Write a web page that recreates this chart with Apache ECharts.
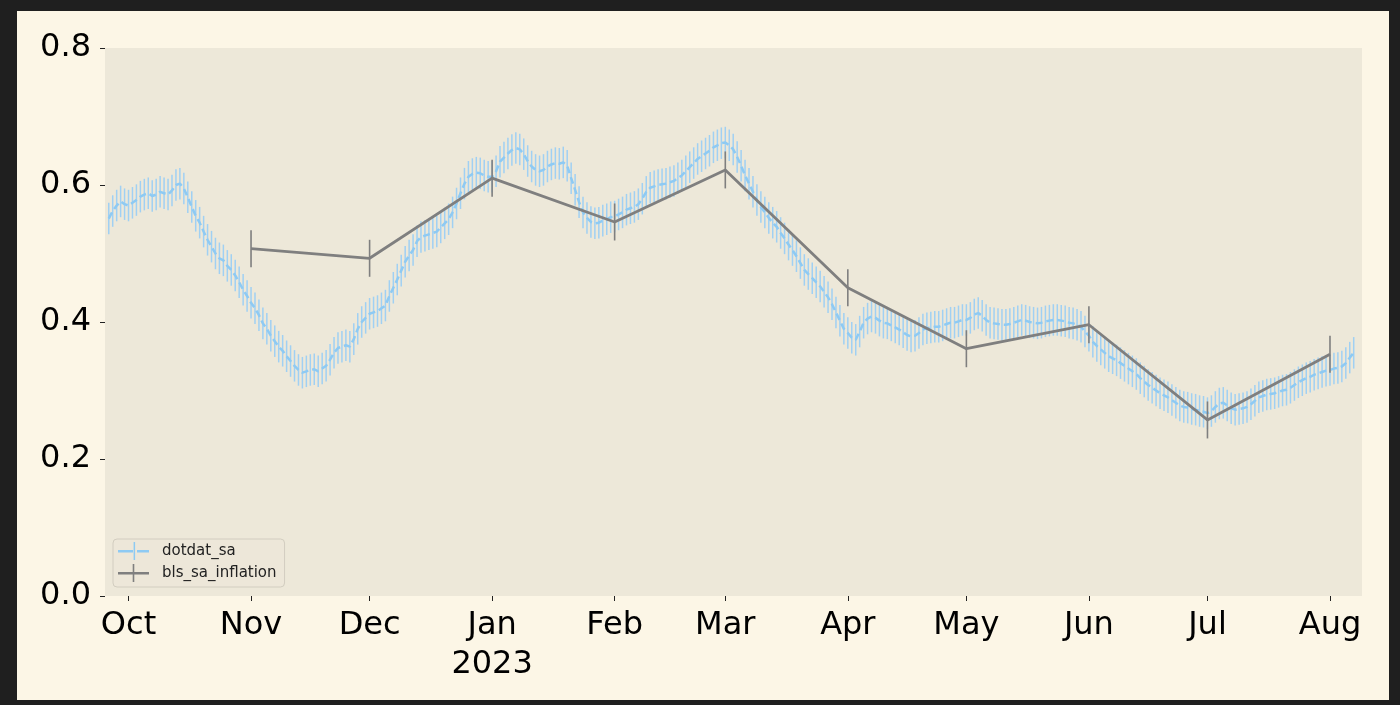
<!DOCTYPE html>
<html>
<head>
<meta charset="utf-8">
<script src="https://cdn.jsdelivr.net/npm/echarts@6/dist/echarts.min.js"></script>
<style>
  html, body { margin: 0; padding: 0; background: #1f1f1f; width: 1400px; height: 705px; overflow: hidden; }
  #chart { position: absolute; left: 17px; top: 11px; width: 1372px; height: 689px; }
</style>
</head>
<body>
<div id="chart"></div>
<script>
// ---------------- DATA ----------------
// dotdat_sa: daily values starting 2022-09-26
const dotStart = [2022, 8, 26];
const dotSep = [0.551, 0.562, 0.570, 0.576, 0.572];
const dotOct = [0.570, 0.574, 0.578, 0.583, 0.586, 0.588, 0.584, 0.586, 0.590, 0.588,
                0.586, 0.592, 0.600, 0.602, 0.595, 0.582, 0.568, 0.555, 0.545, 0.532,
                0.520, 0.510, 0.500, 0.493, 0.490, 0.482, 0.476, 0.468, 0.458, 0.447, 0.438];
const dotNov = [0.428, 0.420, 0.410, 0.398, 0.390, 0.380, 0.372, 0.364, 0.358, 0.350,
                0.343, 0.336, 0.330, 0.326, 0.328, 0.330, 0.331, 0.328, 0.332, 0.336,
                0.345, 0.355, 0.362, 0.364, 0.366, 0.364, 0.375, 0.390, 0.400, 0.406];
const dotDec = [0.412, 0.414, 0.416, 0.420, 0.424, 0.438, 0.450, 0.462, 0.475, 0.488,
                0.497, 0.505, 0.518, 0.524, 0.526, 0.528, 0.530, 0.532, 0.538, 0.544,
                0.550, 0.560, 0.573, 0.588, 0.602, 0.612, 0.616, 0.618, 0.617, 0.614, 0.612];
const dotJan = [0.612, 0.620, 0.634, 0.640, 0.646, 0.651, 0.654, 0.652, 0.645, 0.635,
                0.627, 0.622, 0.620, 0.622, 0.627, 0.630, 0.632, 0.631, 0.633, 0.628,
                0.610, 0.593, 0.575, 0.560, 0.552, 0.546, 0.544, 0.545, 0.548, 0.550, 0.553];
const dotFeb = [0.554, 0.557, 0.560, 0.564, 0.566, 0.568, 0.572, 0.580, 0.590, 0.596,
                0.598, 0.600, 0.601, 0.602, 0.604, 0.606, 0.610, 0.614, 0.620, 0.626,
                0.632, 0.638, 0.642, 0.646, 0.650, 0.655, 0.658, 0.661];
const dotMar = [0.662, 0.658, 0.652, 0.641, 0.628, 0.614, 0.602, 0.590, 0.578, 0.568,
                0.560, 0.552, 0.545, 0.539, 0.530, 0.522, 0.513, 0.505, 0.496, 0.486,
                0.476, 0.470, 0.464, 0.458, 0.452, 0.444, 0.436, 0.426, 0.414, 0.402, 0.390];
const dotApr = [0.384, 0.377, 0.374, 0.386, 0.399, 0.405, 0.408, 0.406, 0.402, 0.399,
                0.398, 0.395, 0.392, 0.389, 0.385, 0.381, 0.379, 0.380, 0.384, 0.389,
                0.391, 0.392, 0.393, 0.393, 0.395, 0.397, 0.399, 0.399, 0.401, 0.403];
const dotMay = [0.403, 0.406, 0.411, 0.413, 0.409, 0.403, 0.399, 0.398, 0.397, 0.396,
                0.396, 0.397, 0.399, 0.401, 0.403, 0.402, 0.400, 0.399, 0.398, 0.399,
                0.401, 0.402, 0.403, 0.403, 0.402, 0.401, 0.399, 0.398, 0.396, 0.393, 0.386];
const dotJun = [0.380, 0.371, 0.365, 0.360, 0.355, 0.350, 0.347, 0.344, 0.340, 0.336,
                0.332, 0.328, 0.324, 0.318, 0.313, 0.308, 0.304, 0.300, 0.296, 0.293,
                0.290, 0.286, 0.282, 0.278, 0.276, 0.275, 0.273, 0.272, 0.270, 0.269];
const dotJul = [0.267, 0.270, 0.276, 0.281, 0.282, 0.278, 0.274, 0.272, 0.273, 0.274,
                0.276, 0.280, 0.285, 0.290, 0.292, 0.294, 0.295, 0.296, 0.298, 0.300,
                0.301, 0.304, 0.308, 0.312, 0.315, 0.318, 0.320, 0.323, 0.325, 0.327, 0.329];
const dotAug = [0.330, 0.332, 0.333, 0.335, 0.340, 0.348, 0.355];
const dotErr = 0.023;

// bls_sa_inflation: monthly values
const blsDates = ['2022-11-01', '2022-12-01', '2023-01-01', '2023-02-01', '2023-03-01',
                  '2023-04-01', '2023-05-01', '2023-06-01', '2023-07-01', '2023-08-01'];
const blsValues = [0.507, 0.493, 0.610, 0.546, 0.622, 0.450, 0.361, 0.396, 0.257, 0.353];
const blsErr = 0.027;

// x tick labels (month starts)
const tickDates = ['2022-10-01', '2022-11-01', '2022-12-01', '2023-01-01', '2023-02-01', '2023-03-01',
                   '2023-04-01', '2023-05-01', '2023-06-01', '2023-07-01', '2023-08-01'];
const tickLabels = ['Oct', 'Nov', 'Dec', 'Jan\n2023', 'Feb', 'Mar', 'Apr', 'May', 'Jun', 'Jul', 'Aug'];

// ---------------- BUILD ----------------
function parseDate(s) {
  const p = s.split('-').map(Number);
  return new Date(p[0], p[1] - 1, p[2]).getTime();
}
const dotValues = [].concat(dotSep, dotOct, dotNov, dotDec, dotJan, dotFeb, dotMar,
                            dotApr, dotMay, dotJun, dotJul, dotAug);
const dotData = dotValues.map((v, i) =>
  [new Date(dotStart[0], dotStart[1], dotStart[2] + i).getTime(), v, dotErr]);
const blsData = blsValues.map((v, i) => [parseDate(blsDates[i]), v, blsErr]);
const tickTimes = tickDates.map(parseDate);

const DAY = 86400000;
const oct1 = tickTimes[0];
const xMin = oct1 - 5.95 * DAY;
const xMax = oct1 + 312.1 * DAY;

const FONT = "'DejaVu Sans', sans-serif";
const blueBar = '#a0d0f3';
const blueLine = '#8ecaf3';
const grey = '#7f7f7f';

function errRender(color, width) {
  return function (params, api) {
    const x = api.value(0), v = api.value(1), e = api.value(2);
    const p1 = api.coord([x, v - e]);
    const p2 = api.coord([x, v + e]);
    return {
      type: 'line',
      shape: { x1: p1[0], y1: p1[1], x2: p2[0], y2: p2[1] },
      style: { stroke: color, lineWidth: width }
    };
  };
}

const chart = echarts.init(document.getElementById('chart'), null, { renderer: 'canvas' });
chart.setOption({
  backgroundColor: '#fcf6e6',
  animation: false,
  grid: {
    left: 88, top: 37, right: 27, bottom: 104,
    show: true, backgroundColor: '#ede8d9', borderWidth: 0
  },
  xAxis: {
    type: 'value',
    min: xMin, max: xMax,
    axisLine: { show: false },
    splitLine: { show: false },
    axisTick: { show: true, length: 5, lineStyle: { color: '#222', width: 1 }, customValues: tickTimes },
    axisLabel: {
      customValues: tickTimes,
      showMinLabel: true, showMaxLabel: true, hideOverlap: false,
      color: '#000', fontSize: 32, fontFamily: FONT, lineHeight: 39, margin: 10,
      formatter: function (val) {
        const idx = tickTimes.indexOf(val);
        return idx >= 0 ? tickLabels[idx] : '';
      }
    }
  },
  yAxis: {
    type: 'value',
    min: 0, max: 0.8, interval: 0.2,
    axisLine: { show: false },
    splitLine: { show: false },
    axisTick: { show: true, length: 5, lineStyle: { color: '#222', width: 1 } },
    axisLabel: {
      color: '#000', fontSize: 32, fontFamily: FONT, margin: 14,
      formatter: function (v) { return v.toFixed(1); }
    }
  },
  legend: {
    orient: 'vertical',
    left: 96, top: 528,
    padding: [3, 8, 5, 5],
    itemWidth: 31, itemHeight: 18, itemGap: 4,
    backgroundColor: 'rgba(236,231,216,0.9)',
    borderColor: '#d2cdc0', borderWidth: 1, borderRadius: 4,
    textStyle: { fontSize: 15, fontFamily: FONT, color: '#222', padding: [0, 0, 0, 8] },
    data: [
      { name: 'dotdat_sa',
        icon: 'path://M0,8h15v2.4h-15z M19,8h12v2.4h-12z M15.6,0h1.5v18h-1.5z',
        itemStyle: { color: blueLine, borderWidth: 0 } },
      { name: 'bls_sa_inflation',
        icon: 'path://M0,8h31v2.4h-31z M14.7,0h1.6v18h-1.6z',
        itemStyle: { color: grey, borderWidth: 0 } }
    ]
  },
  series: [
    {
      name: 'dotdat_err', type: 'custom', renderItem: errRender(blueBar, 1.5),
      data: dotData, encode: { x: 0, y: 1 }, z: 1, silent: true
    },
    {
      name: 'dotdat_sa', type: 'line', data: dotData.map(d => [d[0], d[1]]),
      showSymbol: false, symbol: 'none', z: 2,
      itemStyle: { color: blueLine },
      lineStyle: { color: blueLine, width: 2.5, type: [7, 4] }
    },
    {
      name: 'bls_err', type: 'custom', renderItem: errRender(grey, 1.6),
      data: blsData, encode: { x: 0, y: 1 }, z: 3, silent: true
    },
    {
      name: 'bls_sa_inflation', type: 'line', data: blsData.map(d => [d[0], d[1]]),
      showSymbol: false, symbol: 'none', z: 4,
      itemStyle: { color: grey },
      lineStyle: { color: grey, width: 2.8 }
    }
  ]
});
</script>
</body>
</html>
